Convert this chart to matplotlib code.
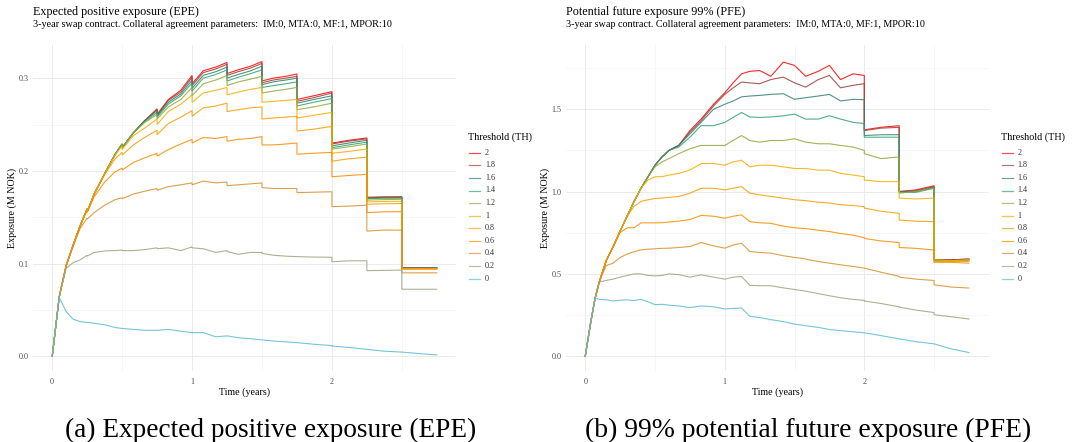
import matplotlib
matplotlib.use("Agg")
import matplotlib.pyplot as plt
from matplotlib.lines import Line2D

plt.rcParams['font.family'] = ['Liberation Serif', 'DejaVu Serif']

# ---------------- data ----------------
threshold_labels = ["2", "1.8", "1.6", "1.4", "1.2", "1", "0.8", "0.6", "0.4", "0.2", "0"]
line_colors = ["#FF0000", "#994037", "#33806E", "#30A36E", "#91A837", "#F2AD00",
               "#F59D00", "#F88C00", "#D98F2B", "#9AA680", "#5BBCD6"]

epe_time = [0, 0.05, 0.10, 0.15, 0.20, 0.25, 0.25, 0.30, 0.375, 0.45, 0.50, 0.50, 0.58, 0.66,
            0.75, 0.75, 0.83, 0.92, 1.0, 1.0, 1.08, 1.17, 1.25, 1.25, 1.33, 1.42, 1.5, 1.5,
            1.58, 1.67, 1.75, 1.75, 1.87, 2.0, 2.0, 2.12, 2.25, 2.25, 2.37, 2.5, 2.5, 2.62, 2.75]
epe_th2 = [0, 0.064, 0.098, 0.120, 0.141, 0.159, 0.156, 0.175, 0.197, 0.218, 0.229, 0.225, 0.241, 0.254,
           0.267, 0.261, 0.277, 0.287, 0.303, 0.294, 0.308, 0.312, 0.317, 0.305, 0.309, 0.313, 0.318, 0.297,
           0.300, 0.302, 0.3045, 0.277, 0.281, 0.2855, 0.230, 0.233, 0.2355, 0.1715, 0.172, 0.172, 0.0955, 0.0955, 0.0955]
epe_th18 = [0, 0.064, 0.098, 0.120, 0.141, 0.159, 0.156, 0.175, 0.197, 0.218, 0.229, 0.225, 0.241, 0.254,
            0.266, 0.260, 0.276, 0.285, 0.301, 0.292, 0.306, 0.310, 0.315, 0.303, 0.307, 0.311, 0.316, 0.295,
            0.298, 0.300, 0.302, 0.275, 0.279, 0.284, 0.229, 0.232, 0.2345, 0.171, 0.1715, 0.1717, 0.0955, 0.0955, 0.0955]
epe_th16 = [0, 0.064, 0.098, 0.120, 0.141, 0.159, 0.156, 0.175, 0.197, 0.218, 0.229, 0.225, 0.241, 0.254,
            0.265, 0.259, 0.274, 0.283, 0.298, 0.289, 0.303, 0.307, 0.312, 0.300, 0.304, 0.308, 0.313, 0.293,
            0.296, 0.298, 0.300, 0.273, 0.277, 0.281, 0.227, 0.230, 0.233, 0.1705, 0.171, 0.1712, 0.095, 0.095, 0.095]
epe_th14 = [0, 0.064, 0.098, 0.120, 0.141, 0.159, 0.156, 0.175, 0.197, 0.218, 0.229, 0.225, 0.241, 0.253,
            0.263, 0.258, 0.272, 0.281, 0.295, 0.286, 0.300, 0.304, 0.309, 0.297, 0.301, 0.305, 0.309, 0.290,
            0.292, 0.294, 0.296, 0.270, 0.274, 0.278, 0.225, 0.228, 0.231, 0.170, 0.1705, 0.1705, 0.095, 0.095, 0.095]
epe_th12 = [0, 0.064, 0.098, 0.120, 0.141, 0.159, 0.156, 0.175, 0.197, 0.218, 0.229, 0.225, 0.241, 0.252,
            0.261, 0.256, 0.269, 0.277, 0.290, 0.281, 0.294, 0.298, 0.303, 0.292, 0.296, 0.299, 0.302, 0.284,
            0.286, 0.288, 0.290, 0.266, 0.269, 0.273, 0.2235, 0.226, 0.229, 0.1685, 0.169, 0.1693, 0.0948, 0.0948, 0.0948]
epe_th10 = [0, 0.064, 0.098, 0.120, 0.141, 0.159, 0.156, 0.175, 0.197, 0.217, 0.227, 0.223, 0.238, 0.246,
            0.256, 0.250, 0.264, 0.272, 0.282, 0.274, 0.284, 0.287, 0.290, 0.282, 0.285, 0.288, 0.290, 0.274,
            0.275, 0.276, 0.277, 0.257, 0.260, 0.263, 0.219, 0.221, 0.2235, 0.1665, 0.167, 0.1672, 0.0945, 0.0945, 0.0945]
epe_th08 = [0, 0.064, 0.098, 0.120, 0.141, 0.159, 0.156, 0.175, 0.196, 0.213, 0.220, 0.217, 0.228, 0.236,
            0.244, 0.239, 0.251, 0.258, 0.265, 0.259, 0.268, 0.270, 0.273, 0.264, 0.266, 0.268, 0.269, 0.256,
            0.257, 0.258, 0.259, 0.243, 0.245, 0.248, 0.2105, 0.213, 0.2147, 0.164, 0.1645, 0.1648, 0.0945, 0.0945, 0.0945]
epe_th06 = [0, 0.064, 0.098, 0.120, 0.141, 0.158, 0.155, 0.172, 0.188, 0.199, 0.203, 0.201, 0.209, 0.214,
            0.219, 0.216, 0.223, 0.229, 0.234, 0.230, 0.236, 0.235, 0.237, 0.232, 0.234, 0.235, 0.237, 0.228,
            0.228, 0.229, 0.230, 0.218, 0.219, 0.220, 0.1937, 0.195, 0.1963, 0.155, 0.1558, 0.156, 0.094, 0.094, 0.094]
epe_th04 = [0, 0.064, 0.098, 0.119, 0.138, 0.149, 0.148, 0.155, 0.163, 0.169, 0.171, 0.170, 0.175, 0.178,
            0.181, 0.179, 0.183, 0.185, 0.187, 0.185, 0.189, 0.187, 0.188, 0.184, 0.185, 0.186, 0.187, 0.182,
            0.181, 0.181, 0.181, 0.1765, 0.177, 0.1775, 0.1614, 0.162, 0.163, 0.135, 0.1362, 0.136, 0.090, 0.090, 0.090]
epe_th02 = [0, 0.064, 0.095, 0.101, 0.104, 0.109, 0.108, 0.112, 0.1136, 0.114, 0.1147, 0.114, 0.114, 0.115,
            0.117, 0.116, 0.117, 0.114, 0.118, 0.117, 0.116, 0.112, 0.114, 0.113, 0.110, 0.112, 0.112, 0.111,
            0.109, 0.108, 0.1075, 0.1075, 0.107, 0.1068, 0.102, 0.103, 0.103, 0.0924, 0.0926, 0.093, 0.0723, 0.0723, 0.0723]
epe_th0 = [0, 0.0636, 0.048, 0.040, 0.0373, 0.0365, 0.0365, 0.0356, 0.034, 0.031, 0.030, 0.030, 0.029, 0.028,
           0.028, 0.028, 0.029, 0.027, 0.0255, 0.0255, 0.0255, 0.021, 0.022, 0.022, 0.020, 0.019, 0.0176, 0.0176,
           0.0165, 0.0155, 0.0147, 0.0147, 0.013, 0.0115, 0.011, 0.0095, 0.0075, 0.0075, 0.0055, 0.0045, 0.0045, 0.003, 0.0014]

pfe_time = [0, 0.035, 0.07, 0.10, 0.15, 0.20, 0.25, 0.30, 0.35, 0.40, 0.45, 0.50, 0.55, 0.60, 0.67,
            0.75, 0.83, 0.92, 1.0, 1.06, 1.12, 1.18, 1.25, 1.33, 1.42, 1.50, 1.58, 1.67, 1.75, 1.83,
            1.92, 2.0, 2.0, 2.12, 2.25, 2.25, 2.37, 2.5, 2.5, 2.62, 2.75]
pfe_th2 = [0, 0.185, 0.35, 0.45, 0.58, 0.665, 0.76, 0.85, 0.94, 1.02, 1.09, 1.16, 1.21, 1.25, 1.28,
           1.37, 1.44, 1.53, 1.60, 1.66, 1.715, 1.73, 1.735, 1.70, 1.786, 1.766, 1.70, 1.73, 1.766, 1.68,
           1.715, 1.705, 1.375, 1.39, 1.40, 1.0, 1.01, 1.035, 0.585, 0.585, 0.59]
pfe_th18 = [0, 0.185, 0.35, 0.45, 0.58, 0.665, 0.76, 0.85, 0.94, 1.02, 1.09, 1.16, 1.21, 1.25, 1.28,
            1.36, 1.43, 1.52, 1.59, 1.63, 1.665, 1.66, 1.655, 1.68, 1.695, 1.66, 1.634, 1.68, 1.705, 1.63,
            1.645, 1.655, 1.37, 1.385, 1.39, 1.0, 1.005, 1.03, 0.585, 0.585, 0.59]
pfe_th16 = [0, 0.185, 0.35, 0.45, 0.58, 0.665, 0.76, 0.85, 0.94, 1.02, 1.09, 1.16, 1.21, 1.25, 1.28,
            1.35, 1.42, 1.50, 1.53, 1.55, 1.575, 1.58, 1.584, 1.59, 1.594, 1.56, 1.57, 1.58, 1.59, 1.55,
            1.56, 1.558, 1.34, 1.345, 1.345, 1.0, 1.0, 1.025, 0.585, 0.58, 0.585]
pfe_th14 = [0, 0.185, 0.35, 0.45, 0.58, 0.665, 0.76, 0.85, 0.94, 1.02, 1.09, 1.16, 1.21, 1.25, 1.27,
            1.33, 1.40, 1.40, 1.42, 1.45, 1.48, 1.453, 1.45, 1.453, 1.46, 1.47, 1.44, 1.44, 1.46, 1.44,
            1.42, 1.413, 1.33, 1.33, 1.33, 0.995, 0.995, 1.02, 0.585, 0.58, 0.585]
pfe_th12 = [0, 0.185, 0.35, 0.45, 0.58, 0.665, 0.76, 0.85, 0.94, 1.02, 1.09, 1.15, 1.18, 1.20, 1.23,
            1.26, 1.28, 1.28, 1.28, 1.31, 1.34, 1.31, 1.30, 1.31, 1.31, 1.32, 1.30, 1.29, 1.29, 1.28,
            1.27, 1.25, 1.23, 1.20, 1.21, 0.99, 1.0, 1.02, 0.585, 0.58, 0.585]
pfe_th10 = [0, 0.185, 0.35, 0.45, 0.58, 0.665, 0.76, 0.85, 0.94, 1.02, 1.07, 1.09, 1.09, 1.10, 1.11,
            1.13, 1.17, 1.17, 1.16, 1.18, 1.19, 1.15, 1.16, 1.16, 1.15, 1.14, 1.14, 1.13, 1.13, 1.11,
            1.10, 1.09, 1.07, 1.06, 1.06, 0.96, 0.955, 0.96, 0.585, 0.58, 0.585]
pfe_th08 = [0, 0.185, 0.35, 0.45, 0.58, 0.665, 0.76, 0.85, 0.91, 0.94, 0.95, 0.958, 0.96, 0.965, 0.97,
            0.99, 1.02, 1.02, 1.01, 1.02, 1.03, 0.99, 0.98, 0.97, 0.96, 0.95, 0.945, 0.935, 0.93, 0.92,
            0.915, 0.908, 0.90, 0.88, 0.868, 0.827, 0.82, 0.817, 0.575, 0.575, 0.575]
pfe_th06 = [0, 0.185, 0.35, 0.45, 0.58, 0.665, 0.75, 0.78, 0.78, 0.81, 0.81, 0.81, 0.81, 0.815, 0.82,
            0.83, 0.855, 0.85, 0.838, 0.85, 0.858, 0.817, 0.81, 0.807, 0.79, 0.78, 0.775, 0.765, 0.757, 0.745,
            0.735, 0.72, 0.715, 0.70, 0.69, 0.66, 0.655, 0.645, 0.57, 0.57, 0.565]
pfe_th04 = [0, 0.185, 0.35, 0.45, 0.55, 0.565, 0.60, 0.62, 0.635, 0.646, 0.65, 0.652, 0.655, 0.656, 0.66,
            0.666, 0.69, 0.67, 0.656, 0.675, 0.686, 0.636, 0.63, 0.626, 0.61, 0.60, 0.59, 0.575, 0.565, 0.555,
            0.545, 0.535, 0.535, 0.51, 0.485, 0.48, 0.468, 0.46, 0.434, 0.42, 0.414]
pfe_th02 = [0, 0.185, 0.35, 0.45, 0.46, 0.468, 0.48, 0.49, 0.50, 0.50, 0.49, 0.488, 0.49, 0.50, 0.495,
            0.48, 0.494, 0.48, 0.468, 0.48, 0.484, 0.43, 0.428, 0.428, 0.415, 0.405, 0.395, 0.38, 0.367, 0.355,
            0.345, 0.339, 0.335, 0.32, 0.30, 0.298, 0.28, 0.265, 0.252, 0.24, 0.226]
pfe_th0 = [0, 0.185, 0.353, 0.345, 0.343, 0.335, 0.34, 0.342, 0.338, 0.345, 0.33, 0.313, 0.315, 0.31, 0.305,
           0.295, 0.305, 0.30, 0.287, 0.29, 0.293, 0.242, 0.235, 0.222, 0.21, 0.195, 0.185, 0.175, 0.162, 0.155,
           0.148, 0.142, 0.142, 0.125, 0.105, 0.105, 0.088, 0.075, 0.075, 0.045, 0.022]

x_ticks = [0, 1, 2]
x_tick_labels = ["0", "1", "2"]
epe_yticks = [0.0, 0.1, 0.2, 0.3]
epe_ytick_labels = ["0.0", "0.1", "0.2", "0.3"]
pfe_yticks = [0.0, 0.5, 1.0, 1.5]
pfe_ytick_labels = ["0.0", "0.5", "1.0", "1.5"]

epe_series = [epe_th2, epe_th18, epe_th16, epe_th14, epe_th12, epe_th10,
              epe_th08, epe_th06, epe_th04, epe_th02, epe_th0]
pfe_series = [pfe_th2, pfe_th18, pfe_th16, pfe_th14, pfe_th12, pfe_th10,
              pfe_th08, pfe_th06, pfe_th04, pfe_th02, pfe_th0]

title_epe = "Expected positive exposure (EPE)"
title_pfe = "Potential future exposure 99% (PFE)"
subtitle = "3-year swap contract. Collateral agreement parameters:  IM:0, MTA:0, MF:1, MPOR:10"
caption_a = "(a) Expected positive exposure (EPE)"
caption_b = "(b) 99% potential future exposure (PFE)"
legend_title = "Threshold (TH)"
x_title = "Time (years)"
y_title = "Exposure (M NOK)"

# ---------------- layout ----------------
W, H = 1073, 442
fig = plt.figure(figsize=(W / 100, H / 100), dpi=100)
fig.patch.set_facecolor("white")


def fx(x):
    return x / W


def fy(y):
    return 1 - y / H


def add_panel(l, t, r, b):
    return fig.add_axes([fx(l), fy(b), (r - l) / W, (b - t) / H])


TICK_FS = 5.9
GRID_MAJ = "#EBEBEB"
GRID_MIN = "#F3F3F3"


def style_panel(ax, xlim, ylim, yticks, ylabels, yminor):
    ax.set_xlim(*xlim)
    ax.set_ylim(*ylim)
    ax.set_xticks(x_ticks)
    ax.set_xticklabels(x_tick_labels)
    ax.set_xticks([0.5, 1.5, 2.5], minor=True)
    ax.set_yticks(yticks)
    ax.set_yticklabels(ylabels)
    ax.set_yticks(yminor, minor=True)
    for s in ax.spines.values():
        s.set_visible(False)
    ax.grid(True, which="major", color=GRID_MAJ, lw=0.7)
    ax.grid(True, which="minor", color=GRID_MIN, lw=0.5)
    ax.set_axisbelow(True)
    ax.tick_params(which="both", length=0)
    ax.tick_params(axis="x", pad=5.0, labelsize=TICK_FS, labelcolor="#4D4D4D")
    ax.tick_params(axis="y", pad=3.0, labelsize=TICK_FS, labelcolor="#4D4D4D")
    ax.set_facecolor("white")


def draw_lines(ax, t, series):
    for vals, col in zip(series, line_colors):
        ax.plot(t, vals, color=col, lw=0.8, alpha=0.85, solid_joinstyle="miter")


ax1 = add_panel(33, 45, 456, 371)
draw_lines(ax1, epe_time, epe_series)
style_panel(ax1, (-0.1375, 2.8875), (-0.0159, 0.3358), epe_yticks, epe_ytick_labels,
            [0.05, 0.15, 0.25])

ax2 = add_panel(566, 45, 989, 371)
draw_lines(ax2, pfe_time, pfe_series)
style_panel(ax2, (-0.138, 2.894), (-0.09, 1.89), pfe_yticks, pfe_ytick_labels,
            [0.25, 0.75, 1.25, 1.75])

fig.canvas.draw()
renderer = fig.canvas.get_renderer()


def fit(txt, target_w=None, target_h=None):
    bb = txt.get_window_extent(renderer)
    if target_w is not None:
        txt.set_fontsize(txt.get_fontsize() * target_w / bb.width)
    else:
        txt.set_fontsize(txt.get_fontsize() * target_h / bb.height)
    return txt


# titles
t1 = fig.text(fx(33.2), fy(12.1), title_epe, ha="left", va="center", fontsize=8, color="black")
fit(t1, 166.7)
s1 = fig.text(fx(33.2), fy(24.9), subtitle, ha="left", va="center", fontsize=7, color="black")
fit(s1, 361)
t2 = fig.text(fx(566), fy(12.1), title_pfe, ha="left", va="center", fontsize=t1.get_fontsize(), color="black")
s2 = fig.text(fx(566), fy(24.9), subtitle, ha="left", va="center", fontsize=s1.get_fontsize(), color="black")

# axis titles
xl = fig.text(fx(244.5), fy(392.2), x_title, ha="center", va="center", fontsize=6.5)
fit(xl, 51)
fig.text(fx(777.5), fy(392.2), x_title, ha="center", va="center", fontsize=xl.get_fontsize())
fig.text(fx(12.3), fy(208), y_title, ha="center", va="center", rotation=90, fontsize=xl.get_fontsize())
fig.text(fx(545.5), fy(208), y_title, ha="center", va="center", rotation=90, fontsize=xl.get_fontsize())

# legends
def draw_legend(x_title_px, x_key0, x_key1, x_label):
    lt = fig.text(fx(x_title_px), fy(136.7), legend_title, ha="left", va="center", fontsize=6.5)
    fit(lt, 64)
    for i, (lab, col) in enumerate(zip(threshold_labels, line_colors)):
        y = 152.7 + i * 12.6
        fig.add_artist(Line2D([fx(x_key0), fx(x_key1)], [fy(y), fy(y)], transform=fig.transFigure,
                              color=col, lw=0.9, alpha=0.7))
        fig.text(fx(x_label), fy(y), lab, ha="left", va="center", fontsize=TICK_FS, color="#333333")


draw_legend(467.7, 469, 479.5, 485)
draw_legend(1001, 1002, 1012.5, 1017.5)

# captions
ca = fig.text(fx(271), fy(430), caption_a, ha="center", va="center", fontsize=16)
fit(ca, 411)
cb = fig.text(fx(808), fy(430), caption_b, ha="center", va="center", fontsize=16)
fit(cb, 446)

fig.savefig("out.png", dpi=100, facecolor="white")
